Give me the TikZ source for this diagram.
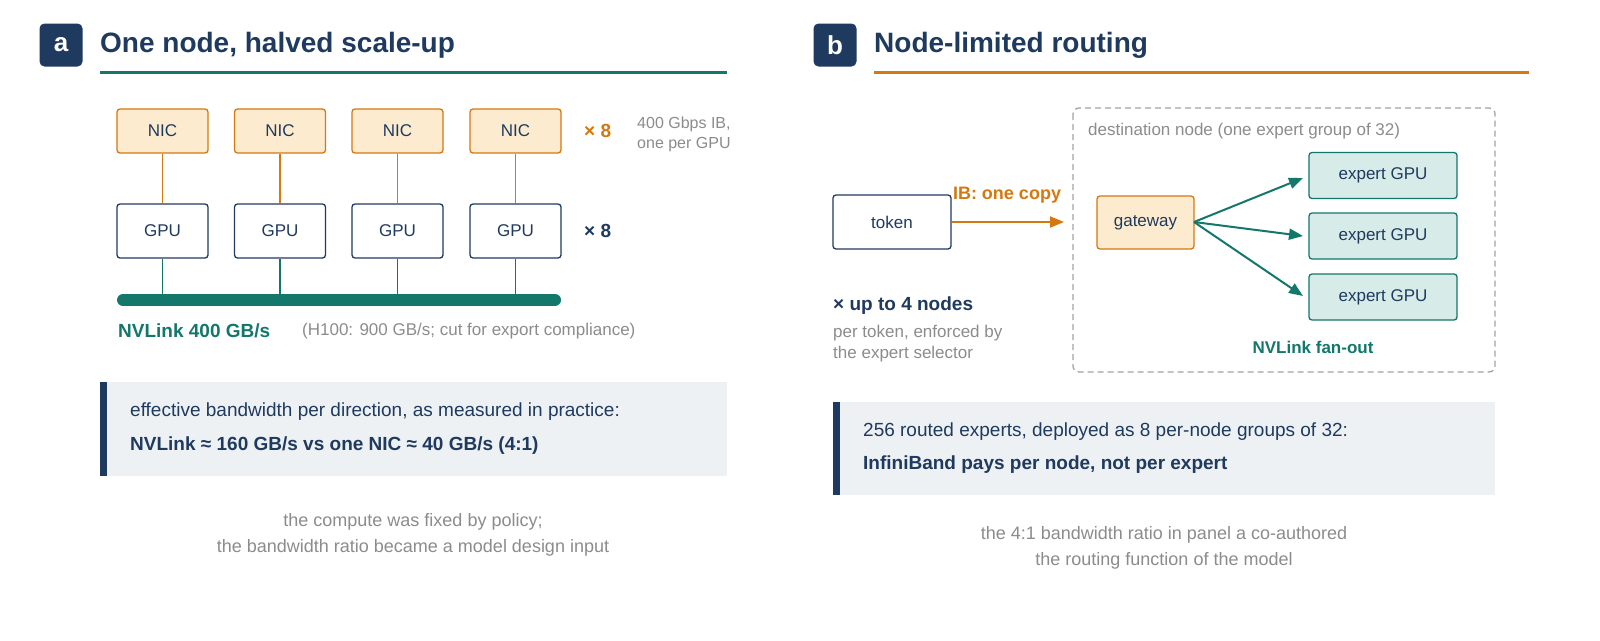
\documentclass[tikz,border=0pt]{standalone}
\usepackage{fontspec}
\setmainfont{Liberation Sans}
\usetikzlibrary{arrows.meta}
\definecolor{navy}{HTML}{1F3A5F}
\definecolor{teal}{HTML}{13776B}
\definecolor{orng}{HTML}{D4780F}
\definecolor{lor}{HTML}{FCEBCF}
\definecolor{lte}{HTML}{D7ECE9}
\definecolor{gtx}{HTML}{8C8C8C}
\definecolor{pan}{HTML}{EEF1F4}
\tikzset{
 badge/.style={fill=navy,rounded corners=5pt,minimum size=43pt,text=white,font=\fontsize{26}{30}\selectfont\bfseries,inner sep=0},
 ttl/.style={anchor=west,text=navy,font=\fontsize{28}{32}\selectfont\bfseries,inner sep=0},
 nicb/.style={draw=orng,fill=lor,line width=1.3pt,rounded corners=3pt,minimum width=91pt,minimum height=44pt,text=navy,font=\fontsize{17}{20}\selectfont,inner sep=0},
 gpub/.style={draw=navy,fill=white,line width=1.3pt,rounded corners=3pt,minimum width=91pt,minimum height=54pt,text=navy,font=\fontsize{17}{20}\selectfont,inner sep=0},
 expb/.style={draw=teal,fill=lte,line width=1.3pt,rounded corners=3pt,minimum width=148pt,minimum height=46pt,text=navy,font=\fontsize{17}{20}\selectfont,inner sep=0},
 gsm/.style={anchor=west,text=gtx,font=\fontsize{17}{20}\selectfont,inner sep=0},
 captxt/.style={text=gtx,font=\fontsize{18}{26}\selectfont,align=center,inner sep=0},
 ctx/.style={anchor=west,text=navy,font=\fontsize{19}{22}\selectfont,inner sep=0},
 tarr/.style={draw=teal,line width=2pt,-{Triangle[length=14pt,width=11pt]}},
}
\begin{document}
\begin{tikzpicture}[x=1pt,y=-1pt]
\useasboundingbox (0,0) rectangle (1600,640);
\fill[white] (0,0) rectangle (1600,640);
% panel a
\node[badge] (ba) at (61,45) {a};
\node[ttl] (ta) at (100,45) {One node, halved scale-up};
\draw[teal,line width=3pt] (100,72) -- (727,72);
\foreach \i/\x in {1/162.5,2/280,3/397.5,4/515.5}{
  \node[nicb] (n\i) at (\x,131) {NIC};
  \node[gpub] (g\i) at (\x,231) {GPU};
  \coordinate (bus\i) at (\x,300);
  \draw[orng,line width=1.3pt] (n\i) -- (g\i);
  \draw[teal,line width=1.3pt] (g\i) -- (bus\i);
}
\draw[teal,line width=12pt,line cap=round] (123,300) -- (555,300);
\node[anchor=west,text=orng,font=\fontsize{19}{22}\selectfont\bfseries,inner sep=0] (x8a) at (584,131) {× 8};
\node[anchor=west,text=navy,font=\fontsize{19}{22}\selectfont\bfseries,inner sep=0] (x8b) at (584,231) {× 8};
\node[gsm,font=\fontsize{16}{20}\selectfont] (ib1) at (637,124) {400 Gbps IB,};
\node[gsm,font=\fontsize{16}{20}\selectfont] (ib2) at (637,145) {one per GPU};
\node[anchor=west,text=teal,font=\fontsize{19}{22}\selectfont\bfseries,inner sep=0] (nvl) at (118,331) {NVLink 400 GB/s};
\node[gsm] (h100) at (302,331) {(H100: 900 GB/s; cut for export compliance)};
\fill[pan] (100,382) rectangle (727,476);
\fill[navy] (100,382) rectangle (107,476);
\node[ctx] (ca1) at (130,412) {effective bandwidth per direction, as measured in practice:};
\node[ctx,font=\fontsize{19}{22}\selectfont\bfseries] (ca2) at (130,446) {NVLink ≈ 160 GB/s vs one NIC ≈ 40 GB/s (4:1)};
\node[captxt] (capa) at (413,535) {the compute was fixed by policy;\\the bandwidth ratio became a model design input};
% panel b
\node[badge] (bb) at (835,45) {b};
\node[ttl] (tb) at (874,45) {Node-limited routing};
\draw[orng,line width=3pt] (874,72) -- (1529,72);
\draw[gtx!80,line width=1.3pt,rounded corners=6pt,dash pattern=on 6pt off 4pt] (1073,108) rectangle (1495,372);
\node[gsm] (dn) at (1088,131) {destination node (one expert group of 32)};
\node[gpub,minimum width=118pt] (tok) at (892,222) {token};
\node[nicb,minimum width=97pt,minimum height=53pt] (gw) at (1145.5,222.5) {gateway};
\coordinate (ibend) at (1064,222);
\draw[orng,line width=2pt,-{Triangle[length=14pt,width=11pt]}] (tok) -- (ibend);
\node[text=orng,font=\fontsize{18}{22}\selectfont\bfseries,inner sep=0] (ibl) at (1007,195) {IB: one copy};
\node[expb] (e1) at (1383,175.5) {expert GPU};
\node[expb] (e2) at (1383,236) {expert GPU};
\node[expb] (e3) at (1383,297) {expert GPU};
\coordinate (gwr) at (1194,222);
\coordinate (a1) at (1303,178);
\coordinate (a2) at (1303,236);
\coordinate (a3) at (1303,296);
\draw[tarr] (gwr) -- (a1);
\draw[tarr] (gwr) -- (a2);
\draw[tarr] (gwr) -- (a3);
\node[text=teal,font=\fontsize{17}{20}\selectfont\bfseries,inner sep=0] (fo) at (1313,347) {NVLink fan-out};
\node[anchor=west,text=navy,font=\fontsize{19}{22}\selectfont\bfseries,inner sep=0] (u4) at (833,306) {× up to 4 nodes};
\node[gsm] (pt1) at (833,333) {per token, enforced by};
\node[gsm] (pt2) at (833,354) {the expert selector};
\fill[pan] (833,402) rectangle (1495,495);
\fill[navy] (833,402) rectangle (840,495);
\node[ctx] (cb1) at (863,432) {256 routed experts, deployed as 8 per-node groups of 32:};
\node[ctx,font=\fontsize{19}{22}\selectfont\bfseries] (cb2) at (863,465) {InfiniBand pays per node, not per expert};
\node[captxt] (capb) at (1164,548) {the 4:1 bandwidth ratio in panel a co-authored\\the routing function of the model};
\end{tikzpicture}
\end{document}
